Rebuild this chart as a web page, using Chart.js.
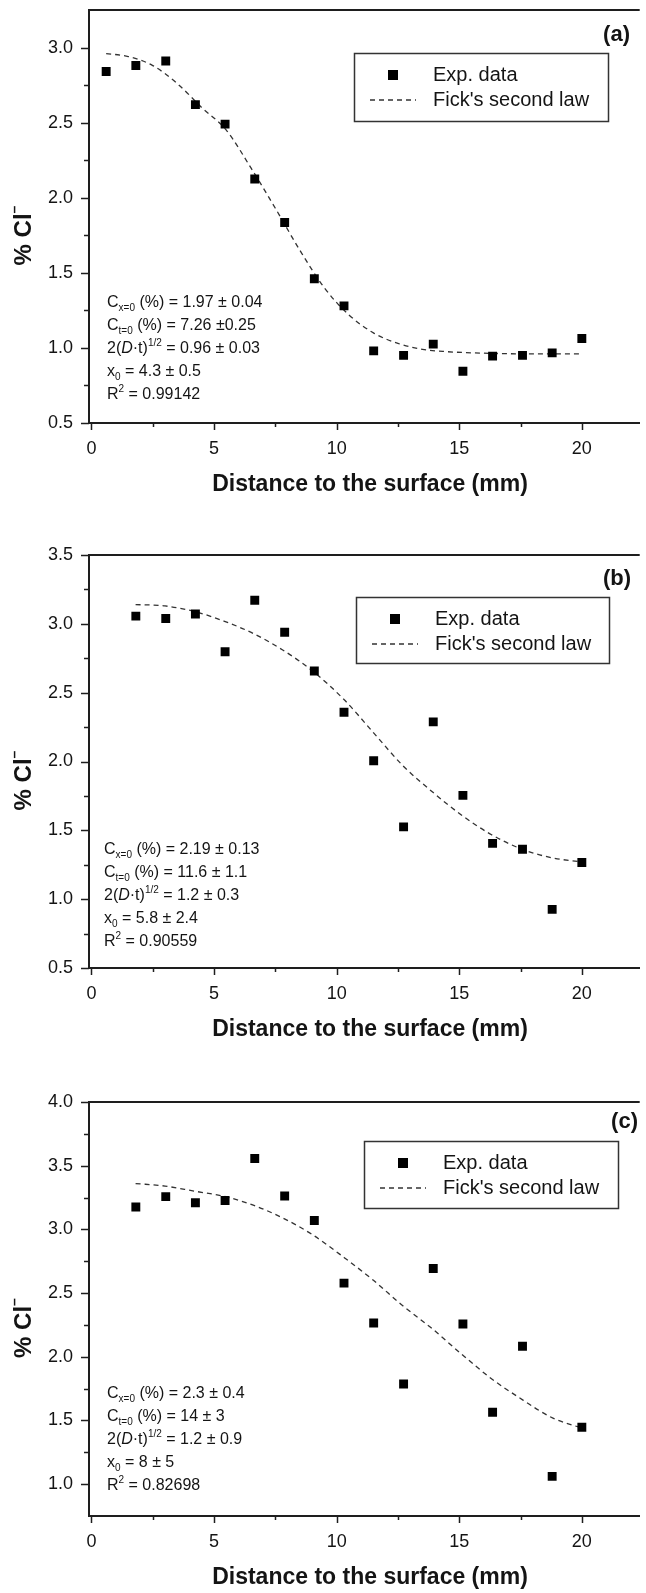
<!DOCTYPE html>
<html>
<head>
<meta charset="utf-8">
<script src="https://cdn.jsdelivr.net/npm/chart.js@4.4.1/dist/chart.umd.min.js"></script>
<style>
html, body { margin: 0; padding: 0; background: #fff; overflow: hidden; }
.panel { position: absolute; left: 0; width: 646px; height: 520px; }
</style>
</head>
<body>
<div class="panel" style="top:0px"><canvas id="chartA" width="646" height="520"></canvas></div>
<div class="panel" style="top:545px"><canvas id="chartB" width="646" height="520"></canvas></div>
<div class="panel" style="top:1092px"><canvas id="chartC" width="646" height="520"></canvas></div>
<script>
// depth of the measuring points (mm)
const depthA = [0.6, 1.81, 3.03, 4.24, 5.45, 6.66, 7.88, 9.09, 10.3, 11.51, 12.73, 13.94, 15.15, 16.36, 17.58, 18.79, 20.0];
const depthBC = [1.81, 3.03, 4.24, 5.45, 6.66, 7.88, 9.09, 10.3, 11.51, 12.73, 13.94, 15.15, 16.36, 17.58, 18.79, 20.0];

// measured chloride content (%)
const chlorideA = [2.84, 2.88, 2.91, 2.62, 2.49, 2.125, 1.835, 1.46, 1.28, 0.98, 0.95, 1.025, 0.845, 0.945, 0.95, 0.967, 1.063];
const chlorideB = [3.056, 3.039, 3.071, 2.797, 3.171, 2.939, 2.657, 2.358, 2.006, 1.525, 2.288, 1.754, 1.405, 1.363, 0.926, 1.266];
const chlorideC = [3.176, 3.257, 3.209, 3.227, 3.556, 3.262, 3.07, 2.578, 2.265, 1.786, 2.693, 2.257, 1.564, 2.083, 1.061, 1.447];

// fitted curve
const fitXA = [0.6, 1.5, 2.5, 3.5, 4.5, 5.5, 6.5, 7.5, 8.5, 9.5, 10.5, 11.5, 12.5, 13.5, 14.5, 16, 18, 20];
const fitYA = [2.96, 2.94, 2.88, 2.76, 2.6, 2.45, 2.2, 1.93, 1.65, 1.4, 1.22, 1.1, 1.03, 0.99, 0.975, 0.965, 0.96, 0.96];
const fitXBC = [1.8, 3.0, 4.2, 5.4, 6.6, 7.8, 9.0, 10.3, 11.5, 12.7, 13.9, 15.1, 16.3, 17.6, 18.8, 20.0];
const fitYB = [3.14, 3.13, 3.09, 3.02, 2.93, 2.81, 2.66, 2.45, 2.21, 1.97, 1.78, 1.61, 1.47, 1.36, 1.3, 1.27];
const fitYC = [3.36, 3.34, 3.3, 3.26, 3.19, 3.09, 2.96, 2.78, 2.6, 2.4, 2.22, 2.02, 1.83, 1.66, 1.52, 1.44];

// ticks (major + minor)
const xTicks = [0, 2.5, 5, 7.5, 10, 12.5, 15, 17.5, 20];
const yTicksA = [0.5, 0.75, 1.0, 1.25, 1.5, 1.75, 2.0, 2.25, 2.5, 2.75, 3.0];
const yTicksB = [0.5, 0.75, 1.0, 1.25, 1.5, 1.75, 2.0, 2.25, 2.5, 2.75, 3.0, 3.25, 3.5];
const yTicksC = [1.0, 1.25, 1.5, 1.75, 2.0, 2.25, 2.5, 2.75, 3.0, 3.25, 3.5, 3.75, 4.0];

const FONT = "'Liberation Sans', Arial, sans-serif";
const AXIS = '#1e1e1e';
const TEXT = '#141414';

function isMajor(v, step) {
    return Math.abs(v / step - Math.round(v / step)) < 1e-6;
}

function fontFor(style, size, bold) {
    let s = size;
    if (style === 'sub' || style === 'sup') s = Math.round(size * 0.6);
    return (style === 'it' ? 'italic ' : '') + (bold ? 'bold ' : '') + s + 'px ' + FONT;
}

// draw text made of pieces with sub/superscripts
function drawRich(ctx, parts, x, y, size, bold, align) {
    let total = 0;
    parts.forEach(p => { ctx.font = fontFor(p[1], size, bold); total += ctx.measureText(p[0]).width; });
    let cx = align === 'center' ? x - total / 2 : x;
    ctx.textAlign = 'left';
    ctx.textBaseline = 'middle';
    parts.forEach(p => {
        ctx.font = fontFor(p[1], size, bold);
        let dy = 0;
        if (p[1] === 'sub') dy = size * 0.32;
        if (p[1] === 'sup') dy = -size * 0.38;
        ctx.fillText(p[0], cx, y + dy);
        cx += ctx.measureText(p[0]).width;
    });
}

const panelDecor = {
    id: 'panelDecor',
    afterDraw(chart, args, opts) {
        const ctx = chart.ctx;
        const area = chart.chartArea;
        const xs = chart.scales.x;
        const ys = chart.scales.y;
        ctx.save();

        // top frame
        ctx.strokeStyle = AXIS;
        ctx.lineWidth = 2;
        ctx.beginPath();
        ctx.moveTo(area.left - 1, area.top);
        ctx.lineTo(area.right, area.top);
        ctx.stroke();

        // tick marks, pointing outwards
        ctx.lineWidth = 1.5;
        ys.ticks.forEach(t => {
            const py = Math.round(ys.getPixelForValue(t.value)) + 0.5;
            const len = isMajor(t.value, 0.5) ? 8 : 5;
            ctx.beginPath();
            ctx.moveTo(area.left, py);
            ctx.lineTo(area.left - len, py);
            ctx.stroke();
        });
        xs.ticks.forEach(t => {
            const px = Math.round(xs.getPixelForValue(t.value)) + 0.5;
            const len = isMajor(t.value, 5) ? 7 : 4;
            ctx.beginPath();
            ctx.moveTo(px, area.bottom);
            ctx.lineTo(px, area.bottom + len);
            ctx.stroke();
        });

        ctx.fillStyle = TEXT;

        // axis titles
        ctx.font = 'bold 23px ' + FONT;
        ctx.textAlign = 'center';
        ctx.textBaseline = 'middle';
        ctx.fillText('Distance to the surface (mm)', 370, area.bottom + 62);

        ctx.save();
        ctx.translate(24, (area.top + area.bottom) / 2 + 19);
        ctx.rotate(-Math.PI / 2);
        drawRich(ctx, [['% Cl', ''], ['\u2013', 'sup']], 0, 0, 24, true, 'center');
        ctx.restore();

        // panel label
        ctx.font = 'bold 22px ' + FONT;
        ctx.textAlign = 'right';
        ctx.textBaseline = 'middle';
        ctx.fillText(opts.label, opts.labelX, opts.labelY);

        // legend box
        const lg = opts.legend;
        ctx.strokeStyle = '#333';
        ctx.lineWidth = 1.5;
        ctx.strokeRect(lg.left + 0.5, lg.top + 0.5, lg.width, lg.height);
        const ds = chart.data.datasets;
        ctx.fillStyle = '#000';
        ctx.fillRect(lg.left + 34, lg.top + 17, 10, 10);
        ctx.strokeStyle = '#333';
        ctx.lineWidth = 1.3;
        ctx.setLineDash([5, 4]);
        ctx.beginPath();
        ctx.moveTo(lg.left + 16, lg.top + 47);
        ctx.lineTo(lg.left + 62, lg.top + 47);
        ctx.stroke();
        ctx.setLineDash([]);
        ctx.fillStyle = TEXT;
        ctx.font = '20px ' + FONT;
        ctx.textAlign = 'left';
        ctx.fillText(ds[0].label, lg.left + 79, lg.top + 22);
        ctx.fillText(ds[1].label, lg.left + 79, lg.top + 47);

        // fit parameters
        opts.fitText.forEach((line, i) => {
            drawRich(ctx, line, opts.textX, opts.textY + i * 23, 16, false, 'left');
        });

        ctx.restore();
    }
};

function toPoints(xs, ys) {
    return xs.map((x, i) => ({ x: x, y: ys[i] }));
}

function makeChart(id, cfg) {
    return new Chart(document.getElementById(id), {
        type: 'scatter',
        data: {
            datasets: [
                {
                    label: 'Exp. data',
                    data: toPoints(cfg.depth, cfg.values),
                    pointStyle: 'rect',
                    pointRadius: 6.3,
                    backgroundColor: '#000',
                    borderWidth: 0
                },
                {
                    label: "Fick's second law",
                    data: toPoints(cfg.fitX, cfg.fitY),
                    showLine: true,
                    pointRadius: 0,
                    borderColor: '#333',
                    borderWidth: 1.3,
                    borderDash: [5, 4],
                    cubicInterpolationMode: 'monotone',
                    fill: false
                }
            ]
        },
        options: {
            responsive: false,
            animation: false,
            layout: { padding: { top: 10, left: 0, right: 0, bottom: 0 } },
            plugins: {
                legend: { display: false },
                tooltip: { enabled: false },
                panelDecor: cfg.decor
            },
            scales: {
                x: {
                    type: 'linear',
                    min: -0.1,
                    max: 22.36,
                    afterBuildTicks: s => { s.ticks = xTicks.map(v => ({ value: v })); },
                    afterFit: s => {
                        s.height = cfg.xAxisHeight;
                        s.paddingLeft = 0;
                        s.paddingRight = 0;
                    },
                    grid: { display: false, drawTicks: false },
                    border: { display: true, color: AXIS, width: 2 },
                    ticks: {
                        autoSkip: false,
                        maxRotation: 0,
                        padding: 15,
                        color: TEXT,
                        font: { family: FONT, size: 18 },
                        callback: v => isMajor(v, 5) ? String(v) : ''
                    }
                },
                y: {
                    type: 'linear',
                    min: cfg.yMin,
                    max: cfg.yMax,
                    afterBuildTicks: s => { s.ticks = cfg.yTicks.map(v => ({ value: v })); },
                    afterFit: s => {
                        s.width = 89;
                        s.paddingTop = 0;
                        s.paddingBottom = 0;
                    },
                    grid: { display: false, drawTicks: false },
                    border: { display: true, color: AXIS, width: 2 },
                    ticks: {
                        autoSkip: false,
                        padding: 16,
                        color: TEXT,
                        font: { family: FONT, size: 18 },
                        callback: v => isMajor(v, 0.5) ? v.toFixed(1) : ''
                    }
                }
            }
        },
        plugins: [panelDecor]
    });
}

makeChart('chartA', {
    depth: depthA, values: chlorideA, fitX: fitXA, fitY: fitYA,
    yMin: 0.5, yMax: 3.25, yTicks: yTicksA, xAxisHeight: 97,
    decor: {
        label: '(a)', labelX: 630, labelY: 35,
        legend: { left: 354, top: 53, width: 254, height: 68 },
        textX: 107, textY: 303,
        fitText: [
            [['C', ''], ['x=0', 'sub'], [' (%) = 1.97 \u00b1 0.04', '']],
            [['C', ''], ['t=0', 'sub'], [' (%) = 7.26 \u00b10.25', '']],
            [['2(', ''], ['D', 'it'], ['\u00b7t)', ''], ['1/2', 'sup'], [' = 0.96 \u00b1 0.03', '']],
            [['x', ''], ['0', 'sub'], [' = 4.3 \u00b1 0.5', '']],
            [['R', ''], ['2', 'sup'], [' = 0.99142', '']]
        ]
    }
});

makeChart('chartB', {
    depth: depthBC, values: chlorideB, fitX: fitXBC, fitY: fitYB,
    yMin: 0.5, yMax: 3.5, yTicks: yTicksB, xAxisHeight: 97,
    decor: {
        label: '(b)', labelX: 631, labelY: 34,
        legend: { left: 356, top: 52, width: 253, height: 66 },
        textX: 104, textY: 305,
        fitText: [
            [['C', ''], ['x=0', 'sub'], [' (%) = 2.19 \u00b1 0.13', '']],
            [['C', ''], ['t=0', 'sub'], [' (%) = 11.6 \u00b1 1.1', '']],
            [['2(', ''], ['D', 'it'], ['\u00b7t)', ''], ['1/2', 'sup'], [' = 1.2 \u00b1 0.3', '']],
            [['x', ''], ['0', 'sub'], [' = 5.8 \u00b1 2.4', '']],
            [['R', ''], ['2', 'sup'], [' = 0.90559', '']]
        ]
    }
});

makeChart('chartC', {
    depth: depthBC, values: chlorideC, fitX: fitXBC, fitY: fitYC,
    yMin: 0.75, yMax: 4.0, yTicks: yTicksC, xAxisHeight: 96,
    decor: {
        label: '(c)', labelX: 638, labelY: 30,
        legend: { left: 364, top: 49, width: 254, height: 67 },
        textX: 107, textY: 302,
        fitText: [
            [['C', ''], ['x=0', 'sub'], [' (%) = 2.3 \u00b1 0.4', '']],
            [['C', ''], ['t=0', 'sub'], [' (%) = 14 \u00b1 3', '']],
            [['2(', ''], ['D', 'it'], ['\u00b7t)', ''], ['1/2', 'sup'], [' = 1.2 \u00b1 0.9', '']],
            [['x', ''], ['0', 'sub'], [' = 8 \u00b1 5', '']],
            [['R', ''], ['2', 'sup'], [' = 0.82698', '']]
        ]
    }
});
</script>
</body>
</html>
